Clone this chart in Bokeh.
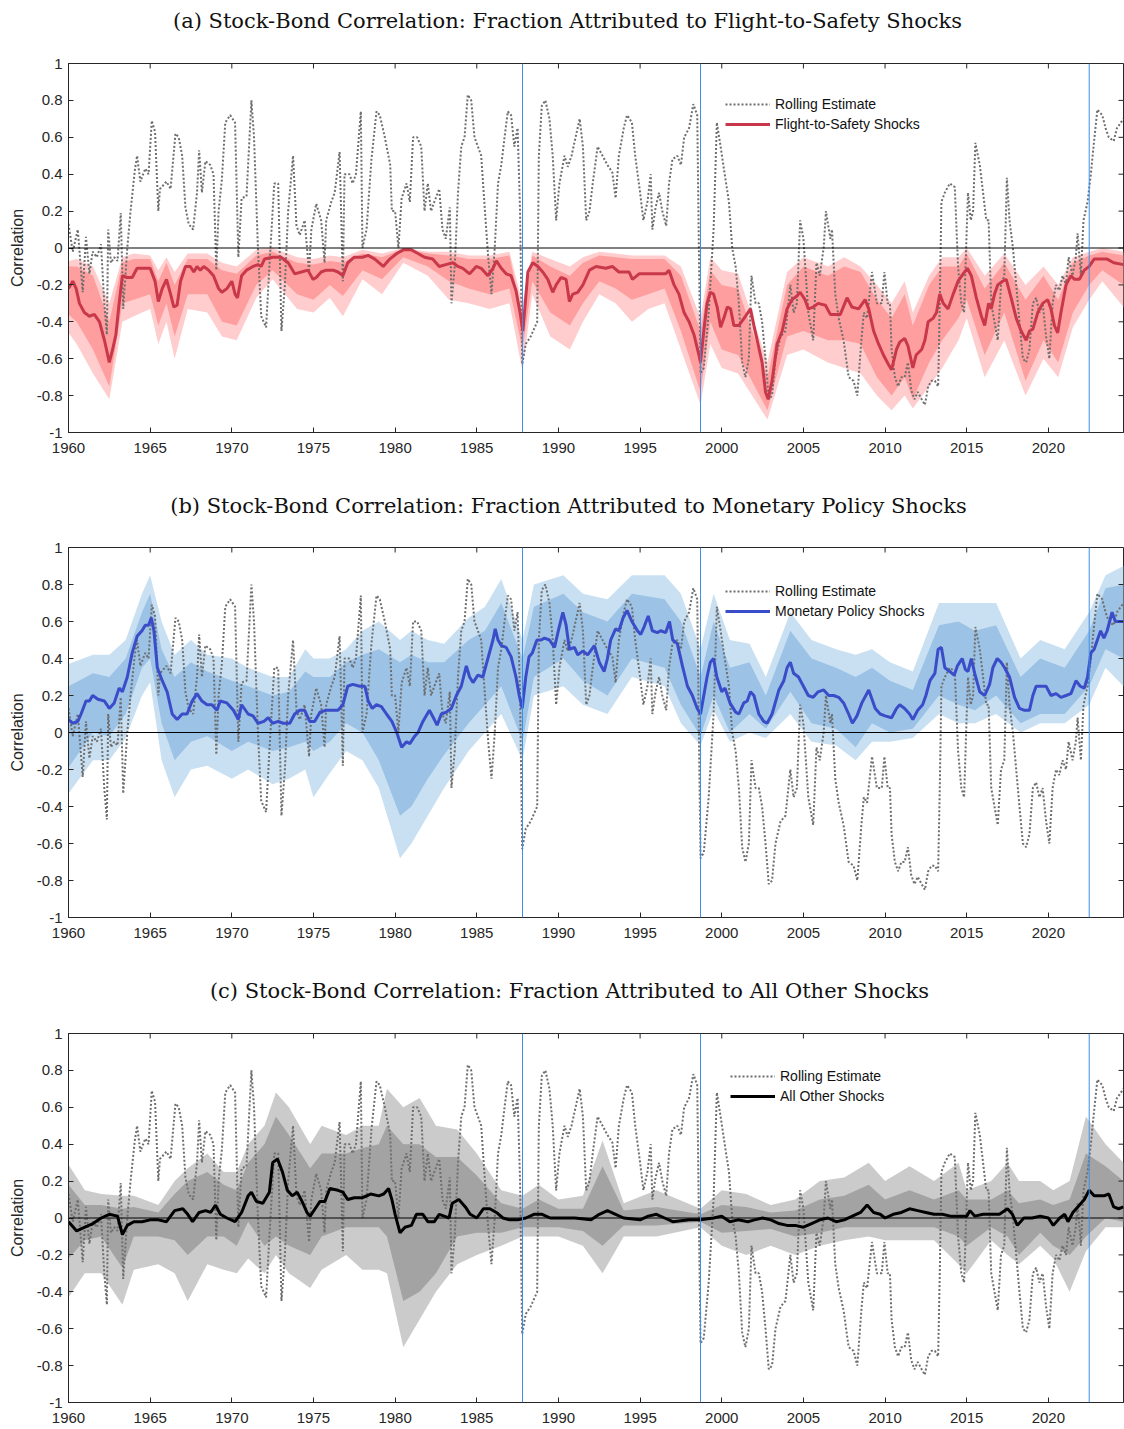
from bokeh.plotting import figure
from bokeh.layouts import column
from bokeh.models import Span, FixedTicker, Legend, LegendItem, Range1d, Label
from bokeh.embed import file_html
from bokeh.resources import INLINE

# ---------------------------------------------------------------------------
# Rolling-window stock-bond correlation (shared by all three panels)
# ---------------------------------------------------------------------------
rolling_year = [
    1960.0, 1960.26, 1960.57, 1960.87, 1961.07, 1961.28, 1961.48, 1961.74, 1961.99, 1962.19,
    1962.35, 1962.43, 1962.6, 1962.8, 1963.0, 1963.2, 1963.35, 1963.6, 1963.8, 1964.06,
    1964.2, 1964.4, 1964.7, 1964.9, 1965.1, 1965.3, 1965.5, 1965.6, 1966.0, 1966.25,
    1966.55, 1966.75, 1966.96, 1967.16, 1967.36, 1967.63, 1967.87, 1968.0, 1968.17, 1968.38,
    1968.68, 1968.88, 1969.05, 1969.19, 1969.39, 1969.6, 1969.9, 1970.2, 1970.4, 1970.6,
    1970.9, 1971.2, 1971.36, 1971.6, 1971.8, 1972.1, 1972.3, 1972.6, 1972.84, 1973.04,
    1973.25, 1973.45, 1973.75, 1973.96, 1974.16, 1974.46, 1974.73, 1974.87, 1975.17, 1975.47,
    1975.68, 1975.78, 1976.09, 1976.3, 1976.6, 1976.8, 1976.9, 1977.2, 1977.4, 1977.6,
    1977.9, 1978.0, 1978.25, 1978.55, 1978.86, 1979.06, 1979.37, 1979.7, 1979.8, 1980.0,
    1980.2, 1980.4, 1980.7, 1980.9, 1981.1, 1981.35, 1981.6, 1981.8, 1982.0, 1982.2,
    1982.4, 1982.7, 1982.9, 1983.1, 1983.35, 1983.45, 1983.65, 1983.85, 1984.05, 1984.25,
    1984.45, 1984.66, 1984.86, 1985.07, 1985.27, 1985.5, 1985.7, 1985.9, 1986.1, 1986.3,
    1986.5, 1986.7, 1986.9, 1987.1, 1987.3, 1987.5, 1987.65, 1987.78, 1988.0, 1988.3,
    1988.7, 1988.8, 1988.98, 1989.2, 1989.45, 1989.65, 1989.86, 1990.06, 1990.37, 1990.57,
    1990.8, 1991.0, 1991.3, 1991.5, 1991.7, 1991.9, 1992.1, 1992.4, 1992.7, 1993.0,
    1993.3, 1993.5, 1993.7, 1994.0, 1994.2, 1994.5, 1994.7, 1995.0, 1995.2, 1995.45,
    1995.65, 1995.75, 1995.95, 1996.16, 1996.36, 1996.6, 1996.77, 1996.98, 1997.28, 1997.5,
    1997.7, 1998.0, 1998.26, 1998.5, 1998.6, 1998.7, 1998.9, 1999.2, 1999.5, 1999.7,
    1999.93, 2000.13, 2000.44, 2000.64, 2000.85, 2001.05, 2001.25, 2001.45, 2001.66, 2001.82,
    2002.07, 2002.27, 2002.47, 2002.68, 2002.88, 2003.08, 2003.29, 2003.6, 2003.9, 2004.2,
    2004.4, 2004.6, 2004.8, 2005.0, 2005.3, 2005.6, 2005.8, 2006.0, 2006.24, 2006.38,
    2006.65, 2006.75, 2006.95, 2007.16, 2007.46, 2007.77, 2008.07, 2008.3, 2008.55, 2008.7,
    2008.9, 2009.2, 2009.5, 2009.8, 2009.96, 2010.16, 2010.3, 2010.4, 2010.6, 2010.8,
    2011.0, 2011.2, 2011.4, 2011.6, 2011.8, 2012.0, 2012.24, 2012.44, 2012.64, 2012.85,
    2013.05, 2013.25, 2013.35, 2013.45, 2013.66, 2013.96, 2014.27, 2014.47, 2014.67, 2014.84,
    2015.0, 2015.08, 2015.25, 2015.39, 2015.53, 2015.8, 2016.0, 2016.2, 2016.34, 2016.5,
    2016.7, 2016.9, 2017.1, 2017.3, 2017.46, 2017.62, 2017.83, 2018.03, 2018.23, 2018.44,
    2018.64, 2018.84, 2019.05, 2019.25, 2019.45, 2019.65, 2019.86, 2020.06, 2020.26, 2020.47,
    2020.67, 2020.87, 2021.08, 2021.24, 2021.48, 2021.68, 2021.79, 2021.99, 2022.15, 2022.4,
    2022.6, 2022.8, 2023.0, 2023.3, 2023.5, 2023.7, 2024.0, 2024.2, 2024.6,
]
rolling_corr = [
    0.13, -0.02, 0.10, -0.24, 0.06, -0.14, -0.02, -0.05, 0.02, -0.30,
    -0.47, 0.10, -0.08, -0.05, -0.07, 0.19, -0.33, 0.00, 0.20, 0.42,
    0.50, 0.36, 0.43, 0.40, 0.69, 0.63, 0.20, 0.32, 0.36, 0.32,
    0.62, 0.60, 0.50, 0.22, 0.13, 0.10, 0.30, 0.53, 0.30, 0.47,
    0.45, 0.40, -0.12, 0.20, 0.37, 0.68, 0.72, 0.68, -0.05, 0.27,
    0.28, 0.80, 0.60, 0.00, -0.37, -0.43, -0.10, 0.35, 0.35, -0.45,
    -0.20, 0.20, 0.50, 0.12, 0.07, 0.15, -0.13, 0.10, 0.24, 0.15,
    -0.08, 0.15, 0.25, 0.30, 0.52, -0.18, 0.40, 0.40, 0.35, 0.40,
    0.74, 0.00, 0.10, 0.48, 0.74, 0.72, 0.60, 0.45, 0.20, 0.20,
    0.00, 0.27, 0.35, 0.25, 0.60, 0.60, 0.55, 0.20, 0.35, 0.20,
    0.25, 0.32, 0.10, 0.05, 0.22, -0.30, -0.10, 0.30, 0.55, 0.60,
    0.83, 0.80, 0.60, 0.55, 0.50, 0.20, -0.05, -0.25, 0.00, 0.35,
    0.45, 0.60, 0.74, 0.72, 0.55, 0.65, 0.20, -0.63, -0.52, -0.48,
    -0.40, 0.50, 0.77, 0.80, 0.70, 0.50, 0.15, 0.35, 0.50, 0.44,
    0.50, 0.58, 0.70, 0.55, 0.15, 0.20, 0.35, 0.55, 0.50, 0.45,
    0.41, 0.27, 0.50, 0.65, 0.72, 0.68, 0.50, 0.30, 0.15, 0.25,
    0.40, 0.10, 0.22, 0.30, 0.20, 0.12, 0.35, 0.48, 0.50, 0.45,
    0.60, 0.65, 0.78, 0.72, 0.00, -0.68, -0.65, -0.35, 0.10, 0.68,
    0.55, 0.43, 0.25, 0.00, -0.10, -0.30, -0.62, -0.70, -0.60, -0.15,
    -0.30, -0.30, -0.40, -0.60, -0.82, -0.80, -0.60, -0.48, -0.45, -0.20,
    -0.35, -0.30, 0.15, 0.05, -0.35, -0.50, -0.08, -0.15, 0.00, 0.20,
    0.05, 0.10, -0.25, -0.38, -0.50, -0.70, -0.72, -0.80, -0.50, -0.35,
    -0.38, -0.13, -0.30, -0.30, -0.13, -0.30, -0.30, -0.55, -0.70, -0.75,
    -0.70, -0.70, -0.62, -0.77, -0.82, -0.78, -0.82, -0.85, -0.75, -0.72,
    -0.72, -0.75, -0.30, 0.25, 0.30, 0.35, 0.33, -0.10, -0.30, -0.35,
    0.10, 0.30, 0.15, 0.20, 0.57, 0.45, 0.30, 0.15, 0.15, -0.30,
    -0.40, -0.50, -0.20, -0.15, 0.38, 0.15, 0.00, -0.20, -0.40, -0.60,
    -0.62, -0.55, -0.30, -0.27, -0.35, -0.30, -0.48, -0.60, -0.30, -0.20,
    -0.23, -0.15, -0.20, -0.05, -0.15, -0.05, 0.08, -0.15, 0.15, 0.25,
    0.40, 0.58, 0.75, 0.72, 0.65, 0.60, 0.58, 0.65, 0.70,
]

# ---------------------------------------------------------------------------
# (a) Flight-to-safety component and its credible bands
# ---------------------------------------------------------------------------
fts_year = [
    1960.0, 1960.26, 1960.47, 1960.67, 1960.97, 1961.28, 1961.58, 1961.9, 1962.2, 1962.5,
    1962.7, 1962.9, 1963.1, 1963.3, 1963.6, 1963.9, 1964.2, 1964.6, 1965.0, 1965.3,
    1965.5, 1965.74, 1966.0, 1966.25, 1966.45, 1966.65, 1966.86, 1967.16, 1967.46, 1967.67,
    1967.87, 1968.07, 1968.28, 1968.58, 1968.88, 1969.19, 1969.39, 1969.7, 1970.0, 1970.2,
    1970.35, 1970.6, 1970.9, 1971.3, 1971.6, 1971.8, 1972.0, 1972.5, 1973.0, 1973.45,
    1973.85, 1974.26, 1974.66, 1974.97, 1975.17, 1975.47, 1975.78, 1976.2, 1976.5, 1976.8,
    1977.1, 1977.5, 1978.0, 1978.35, 1978.76, 1979.27, 1979.67, 1980.1, 1980.5, 1981.0,
    1981.4, 1981.8, 1982.3, 1982.7, 1983.1, 1983.54, 1983.85, 1984.15, 1984.56, 1984.97,
    1985.27, 1985.68, 1985.99, 1986.2, 1986.5, 1986.8, 1987.1, 1987.4, 1987.65, 1987.82,
    1987.92, 1988.13, 1988.43, 1988.74, 1989.04, 1989.35, 1989.65, 1989.86, 1990.16, 1990.47,
    1990.67, 1990.88, 1991.18, 1991.5, 1991.9, 1992.3, 1992.9, 1993.3, 1993.7, 1994.1,
    1994.33, 1994.53, 1994.94, 1995.35, 1995.75, 1996.16, 1996.57, 1996.77, 1997.08, 1997.38,
    1997.69, 1998.0, 1998.3, 1998.6, 1998.7, 1998.9, 1999.1, 1999.3, 1999.5, 1999.72,
    1999.93, 2000.13, 2000.34, 2000.54, 2000.74, 2001.05, 2001.45, 2001.76, 2001.97, 2002.17,
    2002.47, 2002.68, 2002.84, 2003.08, 2003.39, 2003.7, 2004.0, 2004.3, 2004.6, 2004.8,
    2005.1, 2005.3, 2005.6, 2005.9, 2006.35, 2006.65, 2006.95, 2007.26, 2007.67, 2007.97,
    2008.38, 2008.78, 2009.0, 2009.3, 2009.6, 2009.9, 2010.2, 2010.4, 2010.7, 2010.9,
    2011.2, 2011.4, 2011.7, 2011.9, 2012.24, 2012.44, 2012.64, 2012.95, 2013.15, 2013.35,
    2013.56, 2013.86, 2014.17, 2014.47, 2014.78, 2015.04, 2015.28, 2015.59, 2015.9, 2016.1,
    2016.34, 2016.5, 2016.7, 2016.9, 2017.2, 2017.42, 2017.72, 2018.03, 2018.33, 2018.64,
    2018.84, 2019.05, 2019.35, 2019.65, 2019.96, 2020.16, 2020.37, 2020.57, 2020.77, 2021.08,
    2021.38, 2021.6, 2021.9, 2022.2, 2022.5, 2022.8, 2023.2, 2023.6, 2024.0, 2024.6,
]
fts_corr = [
    -0.22, -0.18, -0.22, -0.30, -0.35, -0.37, -0.36, -0.40, -0.50, -0.62,
    -0.55, -0.47, -0.30, -0.15, -0.16, -0.16, -0.11, -0.11, -0.11, -0.18,
    -0.29, -0.22, -0.17, -0.25, -0.32, -0.31, -0.18, -0.10, -0.10, -0.13,
    -0.10, -0.12, -0.10, -0.12, -0.15, -0.22, -0.24, -0.22, -0.18, -0.25,
    -0.27, -0.15, -0.12, -0.10, -0.09, -0.10, -0.06, -0.05, -0.05, -0.08,
    -0.14, -0.13, -0.12, -0.17, -0.16, -0.13, -0.12, -0.12, -0.13, -0.15,
    -0.08, -0.05, -0.05, -0.04, -0.06, -0.10, -0.06, -0.03, -0.01, -0.01,
    -0.03, -0.05, -0.06, -0.10, -0.09, -0.08, -0.10, -0.11, -0.14, -0.10,
    -0.11, -0.15, -0.11, -0.07, -0.11, -0.14, -0.15, -0.23, -0.35, -0.45,
    -0.35, -0.13, -0.08, -0.10, -0.13, -0.17, -0.24, -0.20, -0.16, -0.17,
    -0.29, -0.25, -0.24, -0.20, -0.12, -0.10, -0.11, -0.10, -0.13, -0.13,
    -0.13, -0.17, -0.14, -0.14, -0.14, -0.14, -0.14, -0.12, -0.20, -0.25,
    -0.35, -0.40, -0.47, -0.58, -0.62, -0.45, -0.30, -0.24, -0.25, -0.32,
    -0.43, -0.38, -0.32, -0.33, -0.42, -0.42, -0.37, -0.33, -0.42, -0.50,
    -0.62, -0.78, -0.82, -0.72, -0.52, -0.45, -0.33, -0.28, -0.26, -0.24,
    -0.28, -0.33, -0.32, -0.30, -0.31, -0.36, -0.36, -0.36, -0.27, -0.32,
    -0.33, -0.28, -0.33, -0.45, -0.52, -0.58, -0.63, -0.66, -0.55, -0.51,
    -0.49, -0.53, -0.65, -0.58, -0.55, -0.50, -0.40, -0.38, -0.35, -0.25,
    -0.30, -0.33, -0.25, -0.18, -0.14, -0.11, -0.15, -0.27, -0.37, -0.42,
    -0.30, -0.33, -0.25, -0.20, -0.18, -0.17, -0.27, -0.38, -0.45, -0.50,
    -0.45, -0.44, -0.35, -0.30, -0.28, -0.33, -0.42, -0.46, -0.35, -0.20,
    -0.15, -0.17, -0.17, -0.12, -0.10, -0.06, -0.06, -0.06, -0.08, -0.09,
]
fts_band_year = [
    1960.0, 1960.5, 1961.5, 1962.5, 1963.3, 1964.0, 1965.0, 1965.5, 1966.0, 1966.5,
    1967.3, 1968.5, 1969.4, 1970.3, 1971.5, 1972.5, 1974.0, 1975.0, 1976.0, 1976.8,
    1978.0, 1979.2, 1980.5, 1982.0, 1983.3, 1984.5, 1985.8, 1987.0, 1987.8, 1988.4,
    1989.5, 1990.7, 1991.5, 1992.5, 1993.5, 1994.5, 1995.5, 1996.5, 1997.5, 1998.7,
    1999.3, 2000.0, 2001.0, 2002.8, 2004.0, 2005.0, 2006.5, 2007.5, 2008.5, 2009.5,
    2010.4, 2011.2, 2011.7, 2012.7, 2013.5, 2014.5, 2015.0, 2016.1, 2017.3, 2018.6,
    2019.7, 2020.6, 2021.5, 2022.5, 2023.3, 2024.6,
]
fts_outer_hi = [
    -0.07, -0.06, -0.10, -0.30, -0.05, -0.03, -0.04, -0.12, -0.05, -0.13,
    -0.03, -0.03, -0.08, -0.10, -0.01, 0.00, -0.05, -0.06, -0.04, -0.05,
    -0.01, -0.03, 0.00, -0.02, -0.02, -0.04, -0.04, -0.02, -0.30, -0.02,
    -0.06, -0.10, -0.05, -0.02, -0.03, -0.04, -0.04, -0.04, -0.10, -0.38,
    -0.05, -0.12, -0.14, -0.62, -0.13, -0.05, -0.10, -0.05, -0.10, -0.20,
    -0.30, -0.18, -0.35, -0.15, -0.05, -0.05, 0.00, -0.15, -0.03, -0.20,
    -0.10, -0.20, -0.05, -0.02, 0.00, -0.02,
]
fts_inner_hi = [
    -0.10, -0.10, -0.15, -0.40, -0.08, -0.06, -0.06, -0.18, -0.08, -0.20,
    -0.06, -0.06, -0.12, -0.14, -0.04, -0.02, -0.08, -0.09, -0.07, -0.08,
    -0.03, -0.05, -0.005, -0.03, -0.04, -0.06, -0.06, -0.04, -0.38, -0.04,
    -0.10, -0.15, -0.08, -0.04, -0.05, -0.06, -0.06, -0.06, -0.15, -0.45,
    -0.12, -0.20, -0.22, -0.70, -0.20, -0.10, -0.15, -0.10, -0.13, -0.28,
    -0.38, -0.25, -0.42, -0.20, -0.10, -0.10, -0.03, -0.22, -0.08, -0.28,
    -0.15, -0.28, -0.08, -0.04, -0.02, -0.04,
]
fts_inner_lo = [
    -0.36, -0.40, -0.55, -0.75, -0.30, -0.28, -0.25, -0.42, -0.30, -0.48,
    -0.25, -0.25, -0.40, -0.42, -0.20, -0.12, -0.25, -0.28, -0.20, -0.26,
    -0.12, -0.17, -0.05, -0.10, -0.18, -0.22, -0.25, -0.22, -0.55, -0.18,
    -0.35, -0.42, -0.30, -0.18, -0.22, -0.28, -0.25, -0.22, -0.45, -0.78,
    -0.40, -0.55, -0.58, -0.88, -0.48, -0.45, -0.50, -0.50, -0.52, -0.70,
    -0.80, -0.70, -0.82, -0.62, -0.50, -0.38, -0.28, -0.58, -0.35, -0.72,
    -0.50, -0.62, -0.35, -0.20, -0.12, -0.20,
]
fts_outer_lo = [
    -0.46, -0.52, -0.68, -0.82, -0.40, -0.37, -0.33, -0.52, -0.40, -0.60,
    -0.33, -0.35, -0.48, -0.50, -0.27, -0.17, -0.33, -0.35, -0.27, -0.37,
    -0.17, -0.25, -0.08, -0.15, -0.28, -0.30, -0.33, -0.30, -0.67, -0.25,
    -0.48, -0.55, -0.40, -0.25, -0.30, -0.40, -0.33, -0.30, -0.55, -0.85,
    -0.52, -0.65, -0.68, -0.93, -0.58, -0.55, -0.62, -0.65, -0.68, -0.80,
    -0.88, -0.80, -0.87, -0.75, -0.65, -0.50, -0.38, -0.70, -0.50, -0.80,
    -0.60, -0.70, -0.43, -0.28, -0.18, -0.32,
]

# ---------------------------------------------------------------------------
# (b) Monetary policy component and its credible bands
# ---------------------------------------------------------------------------
mp_year = [
    1960.0, 1960.26, 1960.57, 1960.77, 1961.07, 1961.28, 1961.48, 1961.8, 1962.2, 1962.5,
    1962.8, 1963.1, 1963.3, 1963.6, 1963.9, 1964.2, 1964.5, 1964.7, 1964.9, 1965.07,
    1965.23, 1965.44, 1965.74, 1966.04, 1966.35, 1966.65, 1966.96, 1967.26, 1967.57, 1967.87,
    1968.17, 1968.48, 1968.78, 1969.09, 1969.29, 1969.7, 1970.1, 1970.4, 1970.6, 1971.0,
    1971.3, 1971.6, 1971.97, 1972.23, 1972.5, 1972.84, 1973.14, 1973.55, 1973.85, 1974.16,
    1974.46, 1974.77, 1975.07, 1975.4, 1975.78, 1976.2, 1976.5, 1976.8, 1977.1, 1977.4,
    1977.84, 1978.15, 1978.35, 1978.6, 1978.86, 1979.16, 1979.47, 1979.8, 1980.1, 1980.4,
    1980.7, 1980.9, 1981.2, 1981.4, 1981.7, 1982.1, 1982.4, 1982.57, 1982.83, 1983.14,
    1983.44, 1983.75, 1984.05, 1984.36, 1984.56, 1984.77, 1985.07, 1985.37, 1985.68, 1985.99,
    1986.13, 1986.3, 1986.5, 1986.8, 1987.1, 1987.4, 1987.6, 1987.78, 1988.0, 1988.2,
    1988.4, 1988.68, 1988.94, 1989.14, 1989.45, 1989.76, 1990.02, 1990.27, 1990.47, 1990.67,
    1990.98, 1991.18, 1991.49, 1991.79, 1992.2, 1992.5, 1992.8, 1993.0, 1993.2, 1993.5,
    1993.7, 1993.96, 1994.2, 1994.5, 1994.84, 1995.04, 1995.24, 1995.5, 1995.75, 1996.06,
    1996.26, 1996.57, 1996.8, 1997.0, 1997.28, 1997.59, 1997.9, 1998.2, 1998.5, 1998.7,
    1998.9, 1999.1, 1999.3, 1999.5, 1999.7, 2000.0, 2000.2, 2000.5, 2000.85, 2001.05,
    2001.35, 2001.56, 2001.76, 2001.97, 2002.27, 2002.57, 2002.78, 2003.08, 2003.5, 2003.8,
    2004.0, 2004.2, 2004.4, 2004.7, 2005.0, 2005.3, 2005.6, 2005.9, 2006.24, 2006.55,
    2006.85, 2007.16, 2007.46, 2007.77, 2008.0, 2008.28, 2008.58, 2009.0, 2009.4, 2009.7,
    2010.0, 2010.4, 2010.7, 2010.9, 2011.2, 2011.5, 2011.7, 2012.0, 2012.3, 2012.5,
    2012.75, 2013.05, 2013.25, 2013.45, 2013.66, 2013.96, 2014.23, 2014.43, 2014.72, 2014.92,
    2015.08, 2015.28, 2015.49, 2015.8, 2016.1, 2016.4, 2016.6, 2016.87, 2017.1, 2017.32,
    2017.62, 2017.93, 2018.23, 2018.54, 2018.84, 2019.05, 2019.25, 2019.55, 2019.86, 2020.16,
    2020.47, 2020.77, 2021.08, 2021.38, 2021.69, 2021.95, 2022.2, 2022.4, 2022.6, 2022.8,
    2023.0, 2023.2, 2023.4, 2023.6, 2023.9, 2024.1, 2024.6,
]
mp_corr = [
    0.07, 0.05, 0.06, 0.10, 0.17, 0.17, 0.20, 0.18, 0.17, 0.13,
    0.16, 0.24, 0.22, 0.30, 0.43, 0.52, 0.55, 0.58, 0.58, 0.62,
    0.55, 0.35, 0.28, 0.22, 0.10, 0.07, 0.10, 0.10, 0.17, 0.21,
    0.17, 0.15, 0.15, 0.12, 0.17, 0.16, 0.12, 0.07, 0.15, 0.10,
    0.09, 0.05, 0.06, 0.08, 0.05, 0.06, 0.05, 0.05, 0.10, 0.12,
    0.12, 0.06, 0.06, 0.11, 0.12, 0.12, 0.12, 0.15, 0.25, 0.26,
    0.25, 0.25, 0.17, 0.13, 0.15, 0.14, 0.10, 0.06, 0.00, -0.08,
    -0.05, -0.06, -0.02, 0.00, 0.06, 0.12, 0.07, 0.04, 0.10, 0.11,
    0.13, 0.20, 0.25, 0.36, 0.30, 0.27, 0.31, 0.30, 0.40, 0.50,
    0.56, 0.50, 0.47, 0.46, 0.41, 0.30, 0.20, 0.13, 0.30, 0.41,
    0.43, 0.50, 0.50, 0.51, 0.50, 0.46, 0.56, 0.65, 0.58, 0.45,
    0.46, 0.42, 0.44, 0.42, 0.47, 0.38, 0.33, 0.40, 0.50, 0.56,
    0.55, 0.62, 0.66, 0.60, 0.55, 0.53, 0.57, 0.63, 0.55, 0.54,
    0.55, 0.54, 0.60, 0.50, 0.48, 0.36, 0.25, 0.20, 0.13, 0.10,
    0.20, 0.30, 0.38, 0.40, 0.30, 0.22, 0.24, 0.16, 0.11, 0.10,
    0.16, 0.17, 0.22, 0.20, 0.10, 0.06, 0.05, 0.10, 0.23, 0.28,
    0.35, 0.38, 0.32, 0.30, 0.25, 0.20, 0.19, 0.22, 0.23, 0.20,
    0.20, 0.19, 0.16, 0.10, 0.05, 0.09, 0.16, 0.23, 0.13, 0.10,
    0.09, 0.08, 0.13, 0.15, 0.13, 0.10, 0.07, 0.12, 0.15, 0.20,
    0.28, 0.32, 0.45, 0.46, 0.35, 0.33, 0.31, 0.36, 0.40, 0.34,
    0.33, 0.40, 0.32, 0.22, 0.20, 0.26, 0.35, 0.40, 0.38, 0.35,
    0.30, 0.19, 0.13, 0.12, 0.12, 0.20, 0.25, 0.25, 0.25, 0.20,
    0.21, 0.19, 0.20, 0.21, 0.28, 0.25, 0.24, 0.30, 0.43, 0.45,
    0.50, 0.55, 0.51, 0.55, 0.65, 0.60, 0.60,
]
mp_band_year = [
    1960.0, 1961.5, 1962.5, 1963.5, 1964.5, 1965.0, 1965.7, 1966.5, 1967.5, 1968.5,
    1970.0, 1971.0, 1972.5, 1973.5, 1974.5, 1975.0, 1976.0, 1977.0, 1978.0, 1979.0,
    1980.3, 1981.0, 1982.0, 1983.0, 1984.5, 1985.5, 1986.5, 1987.8, 1988.5, 1990.3,
    1991.5, 1993.0, 1994.5, 1996.5, 1997.5, 1998.7, 1999.5, 2000.5, 2001.7, 2002.7,
    2004.2, 2005.5, 2007.0, 2008.2, 2009.2, 2010.3, 2011.7, 2013.3, 2014.5, 2015.5,
    2016.8, 2018.3, 2019.5, 2021.0, 2022.5, 2023.5, 2024.6,
]
mp_outer_hi = [
    0.37, 0.42, 0.42, 0.50, 0.75, 0.85, 0.60, 0.42, 0.50, 0.42,
    0.40, 0.35, 0.30, 0.30, 0.45, 0.40, 0.40, 0.45, 0.55, 0.60,
    0.50, 0.55, 0.50, 0.48, 0.62, 0.68, 0.83, 0.50, 0.80, 0.85,
    0.75, 0.72, 0.85, 0.85, 0.75, 0.45, 0.75, 0.50, 0.48, 0.30,
    0.65, 0.50, 0.45, 0.42, 0.45, 0.38, 0.33, 0.70, 0.70, 0.70,
    0.70, 0.40, 0.50, 0.45, 0.65, 0.85, 0.90,
]
mp_inner_hi = [
    0.25, 0.32, 0.30, 0.40, 0.65, 0.75, 0.45, 0.30, 0.38, 0.33,
    0.28, 0.25, 0.20, 0.22, 0.33, 0.30, 0.30, 0.38, 0.42, 0.45,
    0.38, 0.42, 0.38, 0.38, 0.50, 0.55, 0.70, 0.40, 0.68, 0.75,
    0.65, 0.60, 0.75, 0.72, 0.60, 0.30, 0.60, 0.35, 0.38, 0.20,
    0.55, 0.40, 0.35, 0.30, 0.35, 0.28, 0.23, 0.58, 0.60, 0.55,
    0.58, 0.30, 0.40, 0.35, 0.55, 0.78, 0.80,
]
mp_inner_lo = [
    -0.19, 0.00, -0.02, 0.10, 0.35, 0.40, 0.05, -0.15, -0.05, -0.02,
    -0.10, -0.05, -0.10, -0.08, -0.05, -0.10, -0.05, 0.05, 0.00, -0.15,
    -0.45, -0.40, -0.25, -0.12, 0.05, 0.15, 0.25, -0.05, 0.30, 0.40,
    0.28, 0.20, 0.40, 0.35, 0.15, -0.02, 0.20, 0.00, 0.10, 0.02,
    0.22, 0.05, 0.02, -0.08, 0.05, 0.00, 0.02, 0.20, 0.15, 0.12,
    0.20, 0.05, 0.10, 0.10, 0.25, 0.45, 0.40,
]
mp_outer_lo = [
    -0.33, -0.15, -0.15, -0.03, 0.20, 0.27, -0.15, -0.35, -0.20, -0.18,
    -0.25, -0.20, -0.28, -0.25, -0.20, -0.35, -0.22, -0.10, -0.15, -0.30,
    -0.68, -0.60, -0.45, -0.30, -0.10, 0.00, 0.10, -0.15, 0.20, 0.25,
    0.15, 0.10, 0.30, 0.25, 0.05, -0.07, 0.12, -0.05, 0.00, -0.03,
    0.10, -0.05, -0.07, -0.15, -0.05, -0.05, -0.03, 0.10, 0.05, 0.05,
    0.10, 0.00, 0.05, 0.05, 0.15, 0.35, 0.25,
]

# ---------------------------------------------------------------------------
# (c) All other shocks and their credible bands
# ---------------------------------------------------------------------------
oth_year = [
    1960.0, 1960.3, 1960.5, 1961.0, 1961.5, 1962.0, 1962.5, 1963.0, 1963.3, 1963.6,
    1964.0, 1964.5, 1965.0, 1965.5, 1966.0, 1966.5, 1967.0, 1967.3, 1967.6, 1968.0,
    1968.4, 1968.7, 1969.0, 1969.3, 1969.7, 1970.2, 1970.6, 1971.0, 1971.2, 1971.5,
    1971.9, 1972.3, 1972.5, 1972.8, 1973.1, 1973.4, 1973.7, 1974.0, 1974.3, 1974.6,
    1974.8, 1975.1, 1975.4, 1975.7, 1976.0, 1976.5, 1976.8, 1977.1, 1977.5, 1978.0,
    1978.5, 1979.0, 1979.3, 1979.6, 1979.8, 1980.0, 1980.3, 1980.6, 1981.0, 1981.3,
    1981.7, 1982.0, 1982.4, 1982.7, 1983.0, 1983.3, 1983.5, 1983.9, 1984.3, 1984.6,
    1985.0, 1985.4, 1985.8, 1986.2, 1986.6, 1987.0, 1987.5, 1988.0, 1988.5, 1989.0,
    1989.5, 1990.0, 1991.0, 1992.0, 1992.5, 1993.0, 1993.5, 1994.0, 1995.0, 1995.5,
    1996.0, 1996.5, 1997.0, 1998.0, 1998.7, 1999.5, 2000.0, 2000.5, 2001.0, 2001.6,
    2002.0, 2002.5, 2003.0, 2003.5, 2004.0, 2004.5, 2005.0, 2005.5, 2006.0, 2006.5,
    2007.0, 2007.5, 2008.0, 2008.5, 2008.9, 2009.3, 2009.7, 2010.0, 2010.5, 2011.0,
    2011.5, 2012.0, 2012.5, 2013.0, 2013.5, 2014.0, 2014.5, 2015.0, 2015.2, 2015.5,
    2016.0, 2016.5, 2017.0, 2017.5, 2017.8, 2018.1, 2018.5, 2019.0, 2019.5, 2020.0,
    2020.3, 2020.7, 2021.0, 2021.2, 2021.5, 2021.8, 2022.2, 2022.5, 2022.8, 2023.1,
    2023.4, 2023.7, 2024.0, 2024.3, 2024.6,
]
oth_corr = [
    -0.02, -0.05, -0.07, -0.05, -0.03, 0.00, 0.02, 0.01, -0.09, -0.04,
    -0.02, -0.02, -0.01, -0.01, -0.02, 0.04, 0.05, 0.02, -0.02, 0.03,
    0.04, 0.03, 0.07, 0.02, 0.00, -0.02, 0.03, 0.12, 0.14, 0.09,
    0.08, 0.14, 0.30, 0.32, 0.25, 0.15, 0.12, 0.14, 0.09, 0.03,
    0.01, 0.05, 0.09, 0.09, 0.16, 0.15, 0.14, 0.10, 0.11, 0.11,
    0.13, 0.12, 0.13, 0.16, 0.10, 0.02, -0.08, -0.05, -0.04, 0.02,
    0.02, -0.02, -0.02, 0.02, 0.01, 0.00, 0.08, 0.10, 0.06, 0.02,
    0.00, 0.05, 0.05, 0.03, 0.00, -0.01, -0.01, 0.00, 0.02, 0.02,
    0.00, 0.00, 0.00, -0.01, 0.02, 0.04, 0.02, 0.00, -0.01, 0.01,
    0.02, 0.00, -0.02, -0.01, -0.01, 0.00, 0.01, -0.02, -0.01, -0.02,
    -0.01, 0.00, -0.01, -0.03, -0.04, -0.04, -0.05, -0.03, -0.01, 0.00,
    -0.02, -0.01, 0.01, 0.03, 0.07, 0.03, 0.02, 0.00, 0.02, 0.03,
    0.05, 0.04, 0.03, 0.02, 0.02, 0.01, 0.01, 0.01, 0.04, 0.01,
    0.02, 0.02, 0.02, 0.05, 0.02, -0.04, 0.00, 0.00, 0.01, 0.00,
    -0.04, 0.00, 0.02, -0.02, 0.03, 0.06, 0.10, 0.15, 0.12, 0.12,
    0.12, 0.13, 0.06, 0.05, 0.06,
]
oth_band_year = [
    1960.0, 1961.0, 1962.0, 1963.3, 1964.0, 1965.5, 1966.5, 1967.3, 1968.5, 1969.5,
    1970.3, 1971.0, 1972.0, 1972.7, 1973.5, 1974.8, 1975.5, 1977.0, 1978.0, 1979.0,
    1979.5, 1980.5, 1981.5, 1982.5, 1983.8, 1985.0, 1986.5, 1987.8, 1988.8, 1990.0,
    1991.5, 1992.7, 1994.0, 1996.0, 1998.7, 2000.0, 2001.5, 2003.0, 2004.5, 2006.0,
    2007.5, 2009.0, 2010.0, 2011.5, 2013.0, 2014.5, 2015.0, 2016.5, 2017.5, 2018.2,
    2019.5, 2020.3, 2021.3, 2022.3, 2023.5, 2024.6,
]
oth_outer_hi = [
    0.29, 0.15, 0.13, 0.12, 0.12, 0.07, 0.20, 0.27, 0.35, 0.25,
    0.25, 0.40, 0.50, 0.68, 0.60, 0.40, 0.50, 0.45, 0.50, 0.50,
    0.70, 0.60, 0.65, 0.50, 0.48, 0.35, 0.15, 0.12, 0.18, 0.10,
    0.12, 0.42, 0.08, 0.15, 0.05, 0.15, 0.13, 0.07, 0.10, 0.20,
    0.22, 0.30, 0.20, 0.28, 0.20, 0.30, 0.15, 0.20, 0.30, 0.20,
    0.20, 0.15, 0.20, 0.55, 0.40, 0.30,
]
oth_inner_hi = [
    0.18, 0.07, 0.07, 0.05, 0.06, 0.03, 0.13, 0.20, 0.25, 0.18,
    0.15, 0.30, 0.40, 0.55, 0.45, 0.27, 0.35, 0.35, 0.38, 0.40,
    0.50, 0.40, 0.40, 0.33, 0.33, 0.23, 0.08, 0.05, 0.10, 0.05,
    0.05, 0.28, 0.04, 0.06, 0.02, 0.07, 0.06, 0.03, 0.04, 0.10,
    0.12, 0.18, 0.10, 0.15, 0.10, 0.15, 0.10, 0.10, 0.15, 0.08,
    0.10, 0.07, 0.10, 0.35, 0.28, 0.20,
]
oth_inner_lo = [
    -0.22, -0.12, -0.10, -0.27, -0.10, -0.10, -0.12, -0.20, -0.10, -0.10,
    -0.15, -0.02, -0.15, -0.10, -0.15, -0.20, -0.10, -0.05, -0.05, -0.05,
    -0.10, -0.45, -0.40, -0.30, -0.10, -0.08, -0.08, -0.05, -0.05, -0.05,
    -0.07, -0.15, -0.04, -0.04, -0.02, -0.08, -0.07, -0.06, -0.10, -0.08,
    -0.05, -0.05, -0.05, -0.05, -0.05, -0.10, -0.15, -0.05, -0.10, -0.20,
    -0.08, -0.15, -0.20, -0.10, 0.00, -0.02,
]
oth_outer_lo = [
    -0.43, -0.30, -0.30, -0.47, -0.28, -0.25, -0.30, -0.45, -0.25, -0.28,
    -0.30, -0.22, -0.30, -0.20, -0.30, -0.38, -0.28, -0.20, -0.28, -0.28,
    -0.30, -0.70, -0.55, -0.40, -0.25, -0.20, -0.15, -0.10, -0.10, -0.10,
    -0.15, -0.30, -0.10, -0.10, -0.05, -0.15, -0.20, -0.15, -0.20, -0.15,
    -0.12, -0.10, -0.12, -0.12, -0.12, -0.25, -0.30, -0.12, -0.20, -0.25,
    -0.15, -0.22, -0.40, -0.18, -0.05, -0.05,
]

# Episode markers (1987 crash, 1998 LTCM, 2022 tightening)
event_years = [1987.8, 1998.7, 2022.5]

x_ticks = [1960, 1965, 1970, 1975, 1980, 1985, 1990, 1995, 2000, 2005, 2010, 2015, 2020]
y_ticks = [-1, -0.8, -0.6, -0.4, -0.2, 0, 0.2, 0.4, 0.6, 0.8, 1]
y_tick_labels = {t: ("%g" % t) for t in y_ticks}

X_START, X_END = 1960, 2024.6
PAGE_W = 1124
LEFT, RIGHT = 68, 1  # borders around every frame
SANS = "Liberation Sans"
SERIF = "DejaVu Serif"
AXIS_COLOR = "#262626"
TICK_LEN = 5  # px
HEAD_H = 40   # height of the heading strip above each panel


def make_heading(text, center_px):
    """A thin strip holding the panel heading; its x range is in page pixels."""
    h = figure(width=PAGE_W, height=HEAD_H, output_backend="svg", toolbar_location=None,
               x_range=Range1d(LEFT, PAGE_W - RIGHT), y_range=Range1d(0, HEAD_H),
               x_axis_type=None, y_axis_type=None,
               min_border_left=LEFT, min_border_right=RIGHT, min_border_top=0,
               min_border_bottom=0, background_fill_color="white",
               border_fill_color="white")
    h.outline_line_color = None
    h.add_layout(Label(x=center_px, y=HEAD_H / 2, text=text, text_font=SERIF,
                       text_font_size="21px", text_color="#111111",
                       text_align="center", text_baseline="middle"))
    return h


def make_panel(line_x, line_y, band_x, o_hi, i_hi, i_lo, o_lo,
               line_color, inner_color, outer_color, label,
               height, border_top, border_bottom, legend_xy):
    p = figure(width=PAGE_W, height=height, output_backend="svg", toolbar_location=None,
               x_range=Range1d(X_START, X_END), y_range=Range1d(-1, 1),
               min_border_left=LEFT, min_border_right=RIGHT,
               min_border_top=border_top, min_border_bottom=border_bottom,
               background_fill_color="white", border_fill_color="white")

    frame_w = PAGE_W - LEFT - RIGHT
    frame_h = height - border_top - border_bottom
    px_per_year = frame_w / (X_END - X_START)
    px_per_unit = frame_h / 2.0

    p.xgrid.visible = False
    p.ygrid.visible = False
    p.outline_line_color = AXIS_COLOR
    p.outline_line_width = 1

    # credible bands
    p.varea(x=band_x, y1=o_lo, y2=o_hi, fill_color=outer_color, fill_alpha=1.0)
    p.varea(x=band_x, y1=i_lo, y2=i_hi, fill_color=inner_color, fill_alpha=1.0)

    roll = p.line(rolling_year, rolling_corr, line_color="#6E6E6E", line_width=2,
                  line_dash="2 2")
    p.add_layout(Span(location=0, dimension="width", line_color="black", line_width=1))
    main = p.line(line_x, line_y, line_color=line_color, line_width=3)

    for yr in event_years:
        p.add_layout(Span(location=yr, dimension="height", line_color="#3D8EE6",
                          line_width=1))

    # axes: MATLAB-like box with inward ticks
    for ax in (p.xaxis[0], p.yaxis[0]):
        ax.major_tick_in = TICK_LEN
        ax.major_tick_out = 0
        ax.minor_tick_line_color = None
        ax.axis_line_color = AXIS_COLOR
        ax.major_tick_line_color = AXIS_COLOR
        ax.major_label_text_font = SANS
        ax.major_label_text_font_size = "15px"
        ax.major_label_text_color = AXIS_COLOR
    p.xaxis[0].ticker = FixedTicker(ticks=x_ticks)
    p.xaxis[0].major_label_standoff = 10
    p.yaxis[0].ticker = FixedTicker(ticks=y_ticks)
    p.yaxis[0].major_label_overrides = y_tick_labels
    p.yaxis[0].major_label_standoff = 6
    p.yaxis[0].axis_label = "Correlation"
    p.yaxis[0].axis_label_text_font = SANS
    p.yaxis[0].axis_label_text_font_size = "16px"
    p.yaxis[0].axis_label_text_font_style = "normal"
    p.yaxis[0].axis_label_text_color = AXIS_COLOR
    p.yaxis[0].axis_label_standoff = 8

    # inward tick marks on the top and right edges of the box
    dy = TICK_LEN / px_per_unit
    dx = TICK_LEN / px_per_year
    p.segment(x0=x_ticks, y0=[1] * len(x_ticks), x1=x_ticks, y1=[1 - dy] * len(x_ticks),
              line_color=AXIS_COLOR, line_width=1)
    p.segment(x0=[X_END] * len(y_ticks), y0=y_ticks, x1=[X_END - dx] * len(y_ticks),
              y1=y_ticks, line_color=AXIS_COLOR, line_width=1)

    legend = Legend(items=[LegendItem(label="Rolling Estimate", renderers=[roll]),
                           LegendItem(label=label, renderers=[main])],
                    location=legend_xy, background_fill_alpha=0.0,
                    border_line_alpha=0.0, padding=4, spacing=2, margin=0,
                    label_height=18, glyph_height=18, glyph_width=45,
                    label_standoff=5, label_text_font=SANS,
                    label_text_font_size="14px", label_text_color="#111111")
    p.add_layout(legend)
    return p


ha = make_heading("(a) Stock-Bond Correlation: Fraction Attributed to Flight-to-Safety Shocks", 567)
pa = make_panel(fts_year, fts_corr, fts_band_year, fts_outer_hi, fts_inner_hi,
                fts_inner_lo, fts_outer_lo,
                "#C8384A", "#FF9E9E", "#FFCDCD", "Flight-to-Safety Shocks",
                445, 23, 53, (653, 295))
hb = make_heading("(b) Stock-Bond Correlation: Fraction Attributed to Monetary Policy Shocks", 568)
pb = make_panel(mp_year, mp_corr, mp_band_year, mp_outer_hi, mp_inner_hi,
                mp_inner_lo, mp_outer_lo,
                "#3A4CC8", "#9CC2E6", "#C9E0F2", "Monetary Policy Shocks",
                445, 22, 53, (653, 293))
hc = make_heading("(c) Stock-Bond Correlation: Fraction Attributed to All Other Shocks", 569)
pc = make_panel(oth_year, oth_corr, oth_band_year, oth_outer_hi, oth_inner_hi,
                oth_inner_lo, oth_outer_lo,
                "#000000", "#A3A3A3", "#CBCBCB", "All Other Shocks",
                421, 23, 29, (658, 293))

layout = column(ha, pa, hb, pb, hc, pc, spacing=0)
open("out.html", "w").write(file_html(layout, INLINE))
